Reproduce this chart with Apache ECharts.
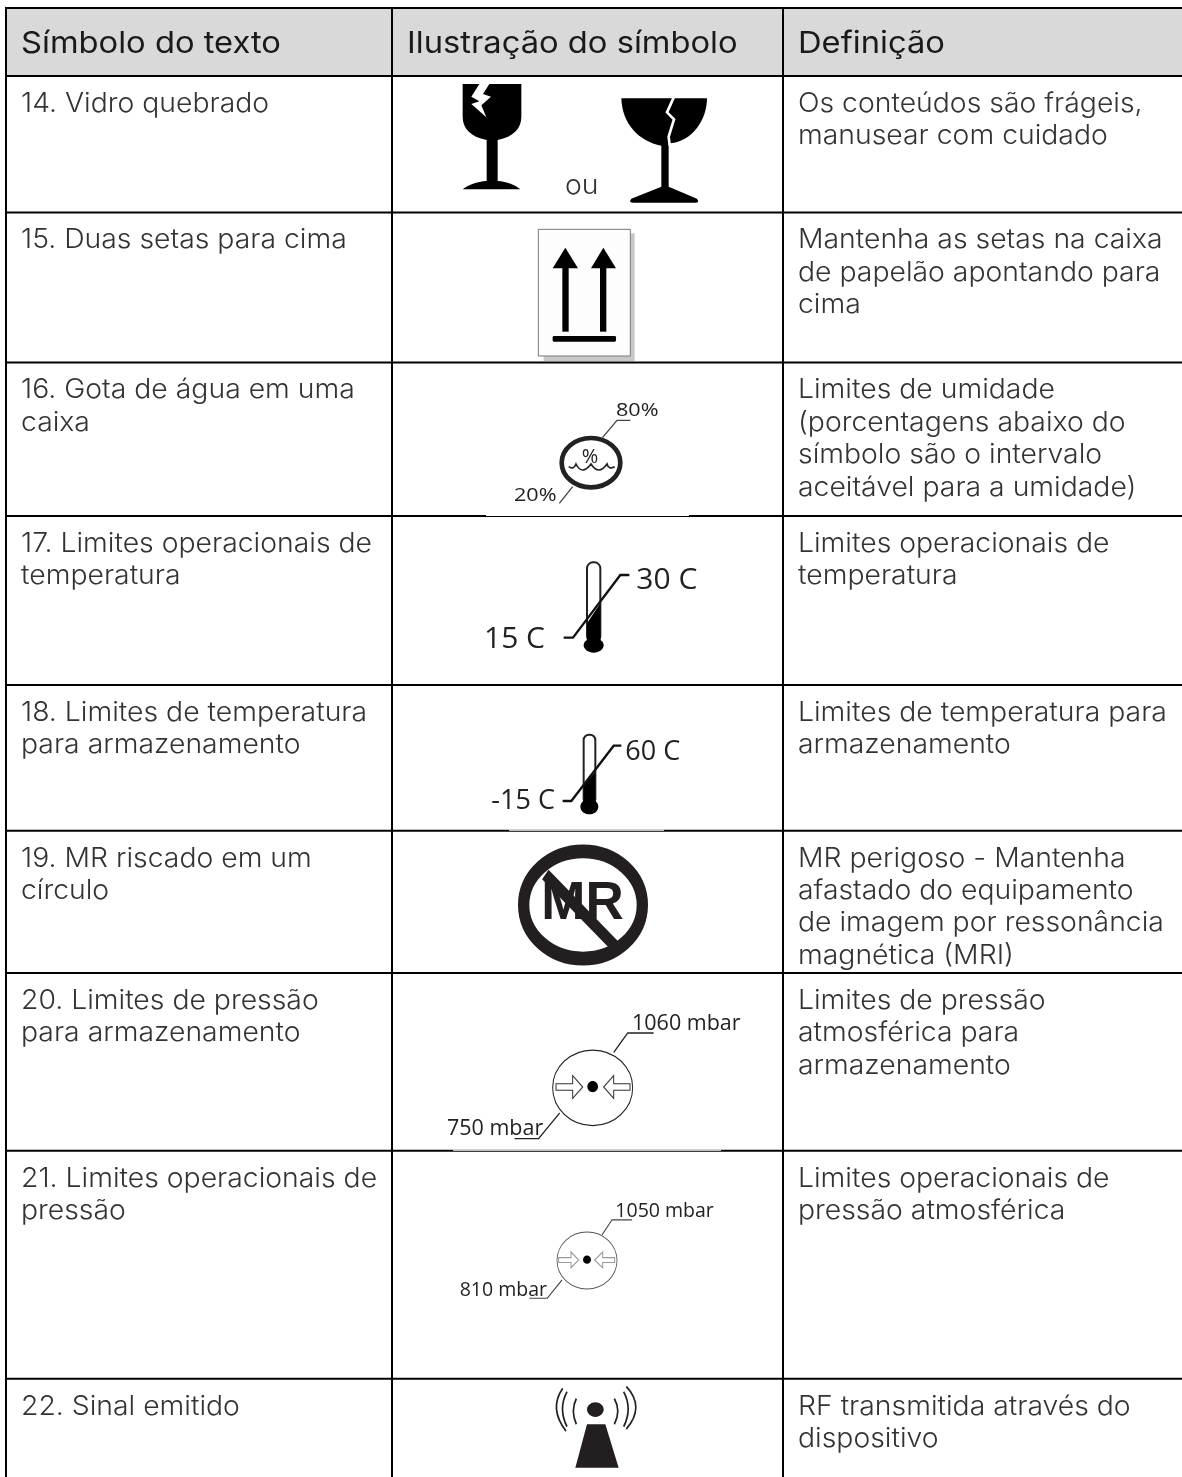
<!DOCTYPE html>
<html><head><meta charset="utf-8">
<style>html,body{margin:0;padding:0;background:#fff}#c{width:1182px;height:1477px}</style>
<script src="https://cdn.jsdelivr.net/npm/echarts@6/dist/echarts.min.js"></script>
</head><body><div id="c"></div>
<script>
const headers = ['Símbolo do texto', 'Ilustração do símbolo', 'Definição'];
const symbolNames = [
  '14. Vidro quebrado',
  '15. Duas setas para cima',
  '16. Gota de água em uma\ncaixa',
  '17. Limites operacionais de\ntemperatura',
  '18. Limites de temperatura\npara armazenamento',
  '19. MR riscado em um\ncírculo',
  '20. Limites de pressão\npara armazenamento',
  '21. Limites operacionais de\npressão',
  '22. Sinal emitido'
];
const definitions = [
  'Os conteúdos são frágeis,\nmanusear com cuidado',
  'Mantenha as setas na caixa\nde papelão apontando para\ncima',
  'Limites de umidade\n(porcentagens abaixo do\nsímbolo são o intervalo\naceitável para a umidade)',
  'Limites operacionais de\ntemperatura',
  'Limites de temperatura para\narmazenamento',
  'MR perigoso - Mantenha\nafastado do equipamento\nde imagem por ressonância\nmagnética (MRI)',
  'Limites de pressão\natmosférica para\narmazenamento',
  'Limites operacionais de\npressão atmosférica',
  'RF transmitida através do\ndispositivo'
];
const rowEdges = [8, 76, 212.5, 362.5, 516, 685, 830.7, 973, 1150.7, 1378.7];
const colEdges = [6, 392, 783, 1182];
const thinSpans = [[486, 689, 516], [509, 664, 830.7], [453, 721, 1150.7]];
const pageBottom = 1477;

const BODY_FONT = '300 27px Inter', HEAD_FONT = '400 30px Inter';
const BODY_SX = 1.05, HEAD_SX = 1.09;
const INK = '#231f20';

// A small path shape: absolute M/L/C/Q/Z commands.
echarts.graphic.registerShape('pathd', echarts.graphic.extendShape({
  type: 'pathd',
  shape: { d: '' },
  buildPath(ctx, s) {
    const toks = s.d.match(/[MLCQZ]|-?[\d.]+/g) || [];
    let i = 0;
    const n = () => parseFloat(toks[i++]);
    while (i < toks.length) {
      const c = toks[i++];
      if (c === 'M') ctx.moveTo(n(), n());
      else if (c === 'L') ctx.lineTo(n(), n());
      else if (c === 'C') ctx.bezierCurveTo(n(), n(), n(), n(), n(), n());
      else if (c === 'Q') ctx.quadraticCurveTo(n(), n(), n(), n());
      else if (c === 'Z') ctx.closePath();
    }
  }
}));

function path(d, style) { return { type: 'pathd', shape: { d: d }, style: style }; }
function poly(pts, style) { return { type: 'polygon', shape: { points: pts }, style: style }; }
function pline(pts, w, c) { return { type: 'polyline', shape: { points: pts }, style: { fill: null, stroke: c || '#222', lineWidth: w } }; }
function ell(cx, cy, rx, ry, style) { return { type: 'ellipse', shape: { cx: cx, cy: cy, rx: rx, ry: ry }, style: style }; }
function rect(x, y, w, h, style, r) { return { type: 'rect', shape: { x: x, y: y, width: w, height: h, r: r || 0 }, style: style }; }

// Pictograms are drawn in the local frame of a magnified crop of their cell.
const pictograms = [
  { oy: 0, sy: 3, kids: () => [
    path('M212 252L388 252L388 350C388 385 365 410 317 420L317 543C345 545 370 555 385 568L212 568C228 555 255 545 284 543L284 420C235 410 212 385 212 350Z', { fill: '#000' }),
    poly([[262, 252], [292, 252], [273, 282], [297, 290], [268, 316], [283, 352], [238, 312], [262, 304], [238, 290]], { fill: '#fff' }),
    path('M688 295L945 295C945 360 900 425 835 430L830 430L830 560L915 596Q924 608 910 608L725 608Q708 608 718 596L808 560L808 437C740 425 690 370 688 295Z', { fill: '#000' }),
    pline([[845, 293], [825, 337], [846, 358], [830, 410], [833, 437]], 8, '#fff')
  ] },
  { oy: 0, sy: 3, kids: () => [
    rect(455, 700, 273, 383, { fill: '#c8c8c8' }),
    rect(439, 688, 276, 380, { fill: '#fdfdfd', stroke: '#777', lineWidth: 3 }),
    poly([[482, 805], [520, 743], [558, 805]], { fill: '#000' }),
    rect(511, 803, 19, 192, { fill: '#000' }),
    poly([[597, 805], [634, 743], [672, 805]], { fill: '#000' }),
    rect(624, 803, 19, 192, { fill: '#000' }),
    rect(482, 1008, 190, 17, { fill: '#000' }, 4)
  ] },
  { oy: 370, sy: 3, kids: () => [
    ell(597, 278, 88, 74, { fill: '#fff', stroke: '#222', lineWidth: 14 }),
    path('M530 290Q545 300 552 282Q570 318 597 282Q620 318 645 282Q650 300 668 290', { fill: null, stroke: '#222', lineWidth: 5 }),
    pline([[632, 202], [675, 151], [715, 151]], 4, '#444'),
    pline([[542, 350], [502, 400]], 4, '#444')
  ], texts: () => [['80%', 672, 143, 18, '500', 1.2], ['20%', 366, 396, 18, '500', 1.2], ['%', 569, 283, 20, '400', 1]] },
  { oy: 370, sy: 3, kids: () => [
    rect(585, 577, 40, 240, { fill: '#fff', stroke: '#222', lineWidth: 6 }, 18),
    poly([[585, 760], [625, 700], [625, 830], [585, 830]], { fill: '#000' }),
    ell(605, 826, 30, 22, { fill: '#000' }),
    pline([[515, 803], [543, 803], [685, 615], [712, 615]], 7, '#111')
  ], texts: () => [['30 C', 733, 665, 30, '500', 1], ['15 C', 276, 842, 30, '500', 1]] },
  { oy: 370, sy: 3, kids: () => [
    rect(575, 1094, 35, 210, { fill: '#fff', stroke: '#222', lineWidth: 6 }, 16),
    poly([[575, 1245], [610, 1205], [610, 1315], [575, 1315]], { fill: '#000' }),
    ell(592, 1310, 27, 23, { fill: '#000' }),
    pline([[512, 1293], [538, 1293], [665, 1127], [688, 1127]], 7, '#111')
  ], texts: () => [['60 C', 700, 1175, 27, '500', 1], ['-15 C', 298, 1323, 27, '500', 1]] },
  { oy: 840, sy: 2.4615, kids: () => [
    ell(573, 160, 178, 132, { fill: '#fff', stroke: INK, lineWidth: 34 })
  ], over: () => [
    { type: 'line', shape: { x1: 460, y1: 85, x2: 670, y2: 262 }, style: { stroke: INK, lineWidth: 30 } }
  ], texts: () => [['MR', 448, 205, 53, '700', 1, '"Liberation Sans"']] },
  { oy: 840, sy: 2.4615, kids: () => [
    ell(602, 610, 120, 93, { fill: '#fff', stroke: '#222', lineWidth: 3 }),
    ell(602, 607, 16, 14, { fill: '#000' }),
    path('M492 600L542 600L542 580L572 608L542 636L542 616L492 616Z', { fill: '#fff', stroke: '#333', lineWidth: 3 }),
    path('M714 600L665 600L665 580L635 608L665 636L665 616L714 616Z', { fill: '#fff', stroke: '#333', lineWidth: 3 }),
    pline([[665, 523], [707, 475], [785, 475]], 3.5, '#222'),
    pline([[503, 672], [440, 735], [368, 735]], 3.5, '#222')
  ], texts: () => [['1060 mbar', 720, 472, 21.5, '500', 1], ['750 mbar', 165, 730, 21.5, '500', 1]] },
  { oy: 840, sy: 2.4615, kids: () => [
    ell(585, 1035, 90, 70, { fill: '#fff', stroke: '#555', lineWidth: 2.5 }),
    ell(585, 1033, 12, 10, { fill: '#000' }),
    path('M500 1028L537 1028L537 1014L560 1034L537 1053L537 1040L500 1040Z', { fill: '#fff', stroke: '#999', lineWidth: 3 }),
    path('M668 1028L632 1028L632 1014L608 1034L632 1053L632 1040L668 1040Z', { fill: '#fff', stroke: '#999', lineWidth: 3 }),
    pline([[630, 972], [660, 935], [720, 935]], 3, '#444'),
    pline([[510, 1083], [466, 1128], [412, 1128]], 3, '#444')
  ], texts: () => [['1050 mbar', 670, 932, 19.5, '500', 1], ['810 mbar', 203, 1125, 19.5, '500', 1]] },
  { oy: 840, sy: 2.4615, kids: () => {
    const arc = 'M553 1375Q535 1405 553 1438M525 1358Q498 1400 525 1444M512 1350Q470 1400 522 1455M667 1375Q688 1405 667 1438M695 1358Q722 1400 695 1444M703 1345Q760 1395 703 1450';
    return [
      ell(610, 1402, 25, 18, { fill: INK }),
      path(arc, { fill: null, stroke: '#222', lineWidth: 5 }),
      poly([[585, 1438], [640, 1438], [680, 1545], [550, 1545]], { fill: INK })
    ];
  } }
];

function renderGrid(params, api) {
  const a = api.coord([colEdges[0], rowEdges[0]]), b = api.coord([colEdges[3], rowEdges[1]]);
  return rect(a[0], a[1], b[0] - a[0], b[1] - a[1], { fill: '#d9d9d9' });
}
function renderRule(params, api) {
  const y = api.coord([0, rowEdges[api.value(0)]])[1];
  const l = api.coord([colEdges[0], 0])[0], r = api.coord([colEdges[3], 0])[0];
  return { type: 'line', shape: { x1: l - 1, y1: y, x2: r, y2: y }, style: { stroke: '#000', lineWidth: 2 } };
}
function renderCol(params, api) {
  const x = api.coord([colEdges[api.value(0)], 0])[0];
  const t = api.coord([0, rowEdges[0]])[1], b = api.coord([0, pageBottom])[1];
  return { type: 'line', shape: { x1: x, y1: t, x2: x, y2: b }, style: { stroke: '#000', lineWidth: 2 } };
}
function renderThin(params, api) {
  const s = thinSpans[api.value(0)];
  const a = api.coord([s[0], s[2] - 1]), b = api.coord([s[1], s[2]]);
  return rect(a[0], a[1], b[0] - a[0], b[1] - a[1], { fill: '#fff' });
}
function tline(api, s, x, base, font, size, fill, sx) {
  const p = api.coord([x, base]);
  return { type: 'text', x: p[0], y: p[1] - 0.27 * size, scaleX: sx, style: { text: s, x: 0, y: 0, font: font, fill: fill, verticalAlign: 'middle', align: 'left' } };
}
function renderHeader(params, api) {
  const i = api.value(0);
  return tline(api, headers[i], colEdges[i] + 15, 52, HEAD_FONT, 30, '#1a1a1a', HEAD_SX);
}
function renderRow(params, api) {
  const i = api.value(0);
  const base = rowEdges[i + 1] + 35;
  const kids = [];
  symbolNames[i].split('\n').forEach((t, k) => kids.push(tline(api, t, colEdges[0] + 15, base + k * 32.4, BODY_FONT, 27, '#333', BODY_SX)));
  definitions[i].split('\n').forEach((t, k) => kids.push(tline(api, t, colEdges[2] + 15, base + k * 32.4, BODY_FONT, 27, '#333', BODY_SX)));
  if (i === 0) kids.push(tline(api, 'ou', 565, 193, BODY_FONT, 27, '#333', BODY_SX));
  return { type: 'group', children: kids };
}
function renderPicto(params, api) {
  const p = pictograms[api.value(0)];
  const o = api.coord([colEdges[1], p.oy]);
  const layer = kids => ({ type: 'group', x: o[0], y: o[1], scaleX: 1 / 3, scaleY: 1 / p.sy, children: kids });
  const out = [layer(p.kids())];
  (p.texts ? p.texts() : []).forEach(t => {
    const q = api.coord([colEdges[1] + t[1] / 3, p.oy + t[2] / p.sy]);
    const fam = t[6] || '"Open Sans"';
    out.push({ type: 'text', x: q[0], y: q[1] - 0.36 * t[3], scaleX: t[5], style: { text: t[0], x: 0, y: 0, font: t[4] + ' ' + t[3] + 'px ' + fam, fill: t[0] === 'MR' ? INK : '#222', verticalAlign: 'middle', align: 'left' } });
  });
  if (p.over) out.push(layer(p.over()));
  return { type: 'group', children: out };
}
function idx(n) { return Array.from({ length: n }, (_, i) => [i]); }
function custom(name, fn, n, z) {
  return { type: 'custom', name: name, renderItem: fn, data: idx(n), coordinateSystem: 'cartesian2d', silent: true, clip: false, z: z, encode: { x: 0 }, animation: false };
}
const chart = echarts.init(document.getElementById('c'), null, { renderer: 'canvas' });
chart.setOption({
  animation: false,
  backgroundColor: '#fff',
  grid: { left: 0, right: 0, top: 0, bottom: 0 },
  xAxis: { type: 'value', min: 0, max: 1182, show: false },
  yAxis: { type: 'value', min: 0, max: pageBottom, inverse: true, show: false },
  series: [
    custom('headerFill', renderGrid, 1, 1),
    custom('rowRules', renderRule, rowEdges.length, 2),
    custom('colRules', renderCol, 3, 2),
    custom('pictograms', renderPicto, pictograms.length, 3),
    custom('thinOverlaps', renderThin, thinSpans.length, 4),
    custom('headers', renderHeader, headers.length, 5),
    custom('rows', renderRow, symbolNames.length, 5)
  ]
});
</script></body></html>
